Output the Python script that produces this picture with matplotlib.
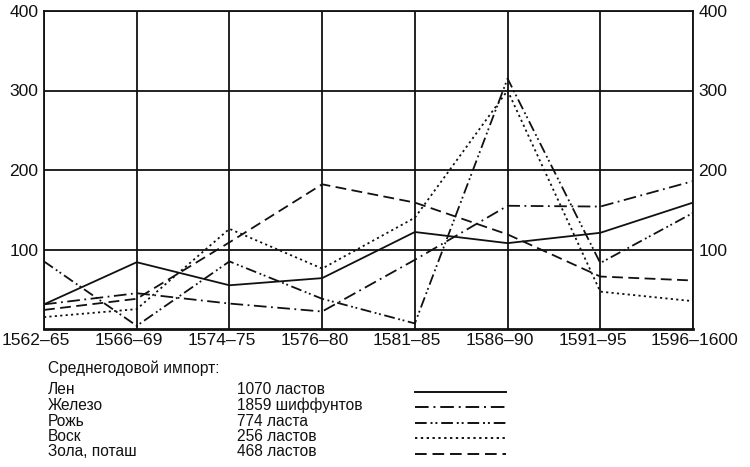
import matplotlib
matplotlib.use("Agg")
import matplotlib.pyplot as plt
from matplotlib.lines import Line2D

plt.rcParams['font.family'] = ['Liberation Sans', 'DejaVu Sans']

periods = ["1562–65", "1566–69", "1574–75", "1576–80", "1581–85", "1586–90", "1591–95", "1596–1600"]
len_vals = [31, 84, 55, 64, 122, 108, 121, 159]
zhelezo = [31, 45, 32, 22, 87, 155, 154, 186]
rozh = [85, 4, 85, 38, 7, 315, 83, 146]
vosk = [15, 25, 126, 76, 140, 300, 47, 35]
zola = [24, 38, 109, 182, 159, 119, 66, 61]

names = ["Лен", "Железо", "Рожь", "Воск", "Зола, поташ"]
amounts = ["1070 ластов", "1859 шиффунтов", "774 ласта", "256 ластов", "468 ластов"]
series = [len_vals, zhelezo, rozh, vosk, zola]
styles = ['-', (0, (7, 2.5, 1, 2.5)), (0, (6, 2, 1, 1.5, 1, 2)), (0, (1.2, 1.8)), (0, (6, 3))]
yticks = [100, 200, 300, 400]

fig = plt.figure(figsize=(7.5, 4.67), dpi=100)
ax = fig.add_axes([44/750, 1-329/467, (693-44)/750, (329-11)/467])
x = list(range(len(periods)))
for vals, ls in zip(series, styles):
    ax.plot(x, vals, color='#111111', lw=1.3, linestyle=ls, solid_capstyle='butt', dash_capstyle='butt')

ax.set_xlim(0, len(periods)-1)
ax.set_ylim(0, 400)
ax.set_yticks(yticks)
ax.set_xticks(x)
ax.set_xticklabels([])
for xi, lab in zip(x, periods):
    ax.annotate(lab, xy=(xi, 0), xycoords=('data', 'axes fraction'),
                xytext=(-42, -4), textcoords='offset pixels',
                ha='left', va='top', fontsize=12.6, color='#111111', annotation_clip=False)
ax.tick_params(axis='both', length=0, labelsize=12.6, colors='#111111')
ax.tick_params(axis='y', pad=4, labelright=True, right=False)
ax.grid(True, color='#111111', lw=1.3)
for s in ax.spines.values():
    s.set_color('#111111')
    s.set_linewidth(1.3)
ax.spines['bottom'].set_linewidth(2)
ax.set_axisbelow(True)

fs = 11.2
fig.text(48/750, 1-368/467, "Среднегодовой импорт:", fontsize=fs, va='center', ha='left', color='#111111')
rows_y = [390, 405.5, 421, 436.5, 452]
for yy, nm, am, ls in zip(rows_y, names, amounts, styles):
    fy = 1-yy/467
    fig.text(48/750, fy, nm, fontsize=fs, va='center', ha='left', color='#111111')
    fig.text(237/750, fy, am, fontsize=fs, va='center', ha='left', color='#111111')
    fig.add_artist(Line2D([415/750, 506/750], [fy - 1.5/467, fy - 1.5/467], transform=fig.transFigure,
                          color='#111111', lw=1.4, linestyle=ls))

fig.savefig("out.png", dpi=100)
